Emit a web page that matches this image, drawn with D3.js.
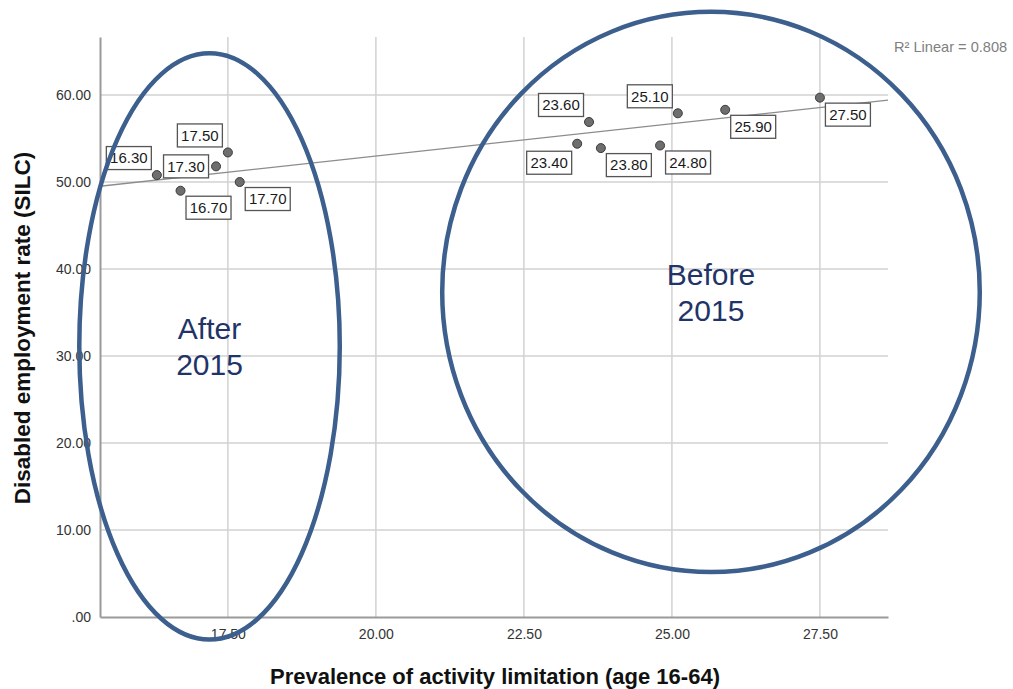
<!DOCTYPE html>
<html>
<head>
<meta charset="utf-8">
<script src="https://cdn.jsdelivr.net/npm/d3@7"></script>
<style>
  html, body { margin: 0; padding: 0; background: #fff; }
  svg { display: block; font-family: Arial, "Liberation Sans", sans-serif; }
</style>
</head>
<body>
<svg id="chart" width="1013" height="689"></svg>
<script>
// Prevalence of activity limitation vs disabled employment rate, by year
const prevalence = [16.3, 16.7, 17.3, 17.5, 17.7, 23.4, 23.6, 23.8, 24.8, 25.1, 25.9, 27.5];
const employment = [50.8, 49.0, 51.8, 53.4, 50.0, 54.4, 56.9, 53.9, 54.2, 57.9, 58.3, 59.7];
// which corner of each point its value box sits on
const labelSide = ["tl", "br", "l", "tl", "br", "bl", "tl", "br", "br", "tl", "br", "br"];

const xTicks = [17.5, 20, 22.5, 25, 27.5];
const yTicks = [0, 10, 20, 30, 40, 50, 60];
const xDomain = [15.34, 28.65];
const yDomain = [0, 66.67];

const rSquaredText = "R\u00B2 Linear = 0.808";
const xTitle = "Prevalence of activity limitation (age 16-64)";
const yTitle = "Disabled employment rate (SILC)";

// period groupings, in data units: centre and radii
const groups = [
  { lines: ["After", "2015"], cx: 17.19, cy: 31.1, rx: 2.2, ry: 33.7 },
  { lines: ["Before", "2015"], cx: 25.66, cy: 37.36, rx: 4.54, ry: 32.2 }
];

const svg = d3.select("#chart");
const plotL = 100, plotR = 888, plotT = 37, plotB = 617;

const x = d3.scaleLinear().domain(xDomain).range([plotL, plotR]);
const y = d3.scaleLinear().domain(yDomain).range([plotB, plotT]);

const fmt = d3.format(".2f");
const tickFmt = v => fmt(v).replace(/^0\./, ".");

// gridlines
svg.append("g").selectAll("line").data(xTicks).join("line")
  .attr("x1", d => x(d)).attr("x2", d => x(d))
  .attr("y1", plotT).attr("y2", plotB)
  .attr("stroke", "#d2d2d2").attr("stroke-width", 1.5);
svg.append("g").selectAll("line").data(yTicks.filter(d => d > 0)).join("line")
  .attr("x1", plotL).attr("x2", plotR)
  .attr("y1", d => y(d)).attr("y2", d => y(d))
  .attr("stroke", "#d2d2d2").attr("stroke-width", 1.5);

// axes
const xAxis = d3.axisBottom(x).tickValues(xTicks).tickFormat(tickFmt).tickSize(0).tickPadding(12);
const yAxis = d3.axisLeft(y).tickValues(yTicks).tickFormat(tickFmt).tickSize(0).tickPadding(9);

const gx = svg.append("g").attr("transform", `translate(0,${plotB})`).call(xAxis);
const gy = svg.append("g").attr("transform", `translate(${plotL},0)`).call(yAxis);
[gx, gy].forEach(g => {
  g.select(".domain").attr("stroke", "#9a9a9a").attr("stroke-width", 2);
  g.selectAll("text").attr("font-size", 14).attr("fill", "#333")
    .attr("font-family", "Arial, 'Liberation Sans', sans-serif");
});

// least-squares fit line
const n = prevalence.length;
const mx = d3.mean(prevalence), my = d3.mean(employment);
let sxy = 0, sxx = 0;
for (let i = 0; i < n; i++) {
  sxy += (prevalence[i] - mx) * (employment[i] - my);
  sxx += (prevalence[i] - mx) ** 2;
}
const slope = sxy / sxx, intercept = my - slope * mx;
svg.append("line")
  .attr("x1", x(xDomain[0])).attr("y1", y(intercept + slope * xDomain[0]))
  .attr("x2", x(xDomain[1])).attr("y2", y(intercept + slope * xDomain[1]))
  .attr("stroke", "#8c8c8c").attr("stroke-width", 1.3);

svg.append("text")
  .attr("x", 894).attr("y", 52)
  .attr("font-size", 14.6).attr("fill", "#808080")
  .text(rSquaredText);

// points
const pts = prevalence.map((v, i) => ({ x: v, y: employment[i], side: labelSide[i] }));
svg.append("g").selectAll("circle").data(pts).join("circle")
  .attr("cx", d => x(d.x)).attr("cy", d => y(d.y)).attr("r", 4.5)
  .attr("fill", "#6e6e6e").attr("stroke", "#3a3a3a").attr("stroke-width", 1);

// value boxes
const bw = 45, bh = 23, off = 5.5;
const labels = svg.append("g").selectAll("g").data(pts).join("g")
  .attr("transform", d => {
    const px = x(d.x), py = y(d.y);
    let bx, by;
    if (d.side === "tl") { bx = px - off - bw; by = py - off - bh; }
    else if (d.side === "br") { bx = px + off; by = py + off; }
    else if (d.side === "bl") { bx = px - off - bw; by = py + off + 2; }
    else { bx = px - off - 2 - bw; by = py - bh / 2; }
    return `translate(${bx},${by})`;
  });
labels.append("rect").attr("width", bw).attr("height", bh)
  .attr("fill", "#fff").attr("stroke", "#555").attr("stroke-width", 1.3);
labels.append("text").attr("x", bw / 2).attr("y", bh / 2 + 5.3)
  .attr("text-anchor", "middle").attr("font-size", 15).attr("fill", "#1a1a1a")
  .text(d => fmt(d.x));

// axis titles
svg.append("text")
  .attr("x", 495).attr("y", 684).attr("text-anchor", "middle")
  .attr("font-size", 22).attr("font-weight", "bold").attr("fill", "#111")
  .text(xTitle);
svg.append("text")
  .attr("transform", "translate(30,328) rotate(-90)").attr("text-anchor", "middle")
  .attr("font-size", 22.5).attr("font-weight", "bold").attr("fill", "#111")
  .text(yTitle);

// period groupings
const ann = svg.append("g").selectAll("g").data(groups).join("g");
ann.append("ellipse")
  .attr("cx", d => x(d.cx)).attr("cy", d => y(d.cy))
  .attr("rx", d => x(d.cx + d.rx) - x(d.cx)).attr("ry", d => y(d.cy) - y(d.cy + d.ry))
  .attr("fill", "none").attr("stroke", "#3c5f8e").attr("stroke-width", 4.5);
ann.each(function (d) {
  const g = d3.select(this);
  d.lines.forEach((t, i) => {
    g.append("text")
      .attr("x", x(d.cx)).attr("y", y(d.cy) + (i - 0.5) * 36 + 10.7)
      .attr("text-anchor", "middle").attr("font-size", 30).attr("fill", "#1f3468")
      .text(t);
  });
});
</script>
</body>
</html>
